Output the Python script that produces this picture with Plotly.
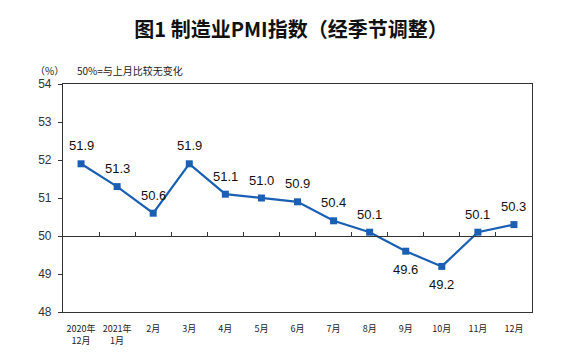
import plotly.graph_objects as go

categories = ["2020年<br>12月", "2021年<br>1月", "2月", "3月", "4月", "5月", "6月",
              "7月", "8月", "9月", "10月", "11月", "12月"]
pmi = [51.9, 51.3, 50.6, 51.9, 51.1, 51.0, 50.9, 50.4, 50.1, 49.6, 49.2, 50.1, 50.3]
label_text = ["51.9", "51.3", "50.6", "51.9", "51.1", "51.0", "50.9", "50.4", "50.1",
              "49.6", "49.2", "50.1", "50.3"]
label_below = [False, False, False, False, False, False, False, False, False,
               True, True, False, False]
y_ticks = [48, 49, 50, 51, 52, 53, 54]

LINE = "#1a5fb4"
AX = "#333333"
CJK = "Noto Sans CJK SC"

# page body adds an 8px offset; size the figure so the plot lands where the reference has it
W, H = 578, 356
ML, MT, MR, MB = 55, 76, 54, 52
PW, PH = W - ML - MR, H - MT - MB

fig = go.Figure()
fig.add_trace(go.Scatter(
    x=categories, y=pmi, mode="lines+markers",
    line=dict(color=LINE, width=2.2),
    marker=dict(symbol="square", size=7, color=LINE),
    hoverinfo="skip", showlegend=False,
))
# invisible trace to carry the 50% baseline axis
fig.add_trace(go.Scatter(
    x=categories, y=pmi, xaxis="x2", mode="markers",
    marker=dict(opacity=0), hoverinfo="skip", showlegend=False,
))

for c, v, t, below in zip(categories, pmi, label_text, label_below):
    fig.add_annotation(
        x=c, y=v, text=t, showarrow=False,
        yshift=-18 if below else 18,
        font=dict(family="Liberation Sans, Arial", size=13, color="#111111"),
    )

fig.update_layout(
    width=W, height=H,
    margin=dict(l=ML, r=MR, t=MT, b=MB),
    paper_bgcolor="white", plot_bgcolor="white",
    title=dict(text="<b>图1 制造业PMI指数（经季节调整）</b>",
               x=(291 - 8) / W, xanchor="center", y=1 - (30 - 8) / H, yanchor="middle",
               font=dict(family=CJK, size=20, color="#111111")),
    xaxis=dict(
        type="category", categoryorder="array", categoryarray=categories,
        range=[-0.5, 12.5], showgrid=False, zeroline=False,
        showline=True, linecolor=AX, linewidth=1.2, mirror=True,
        ticks="", tickfont=dict(family=CJK, size=9, color="#222222"),
        ticklabelstandoff=8,
    ),
    xaxis2=dict(
        type="category", categoryorder="array", categoryarray=categories,
        range=[-0.5, 12.5], overlaying="x", anchor="free", position=1 / 3,
        side="bottom", showgrid=False, zeroline=False,
        showline=True, linecolor=AX, linewidth=1.2,
        ticks="inside", ticklen=4, tickcolor=AX, tickwidth=1,
        tickson="boundaries", showticklabels=False,
    ),
    yaxis=dict(
        range=[48, 54], tickvals=y_ticks, showgrid=False, zeroline=False,
        showline=True, linecolor=AX, linewidth=1.2, mirror=True,
        ticks="outside", ticklen=4, tickcolor=AX, ticklabelstandoff=4,
        tickfont=dict(family="Liberation Sans, Arial", size=12, color="#333333"),
    ),
)

sub_y = 1 + (84 - 70) / PH
fig.add_annotation(xref="paper", yref="paper", x=(49 - 63) / PW, y=sub_y,
                   text="（%）", showarrow=False, xanchor="center", yanchor="middle",
                   font=dict(family=CJK, size=10, color="#222222"))
fig.add_annotation(xref="paper", yref="paper", x=(75 - 63) / PW, y=sub_y,
                   text="50%=与上月比较无变化", showarrow=False, xanchor="left", yanchor="middle",
                   font=dict(family=CJK, size=10, color="#222222"))

fig.write_html("out.html")
